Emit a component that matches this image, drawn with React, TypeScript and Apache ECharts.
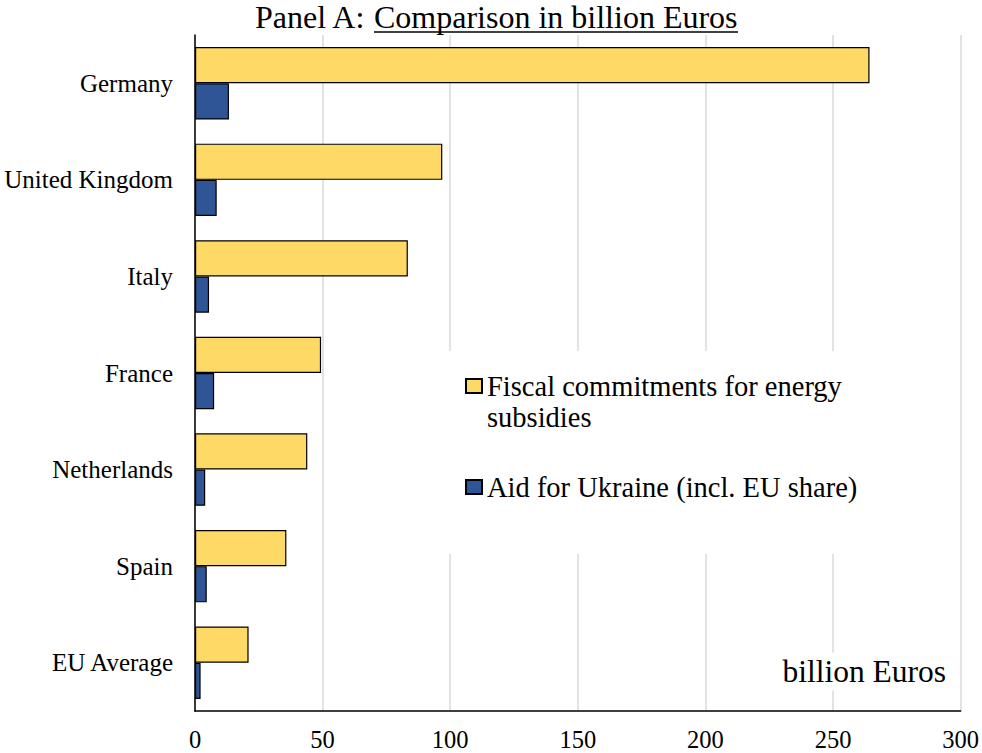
import React, { useEffect, useRef } from 'react';
import * as echarts from 'echarts';

const categories = ['Germany', 'United Kingdom', 'Italy', 'France', 'Netherlands', 'Spain', 'EU Average'];
const energySubsidies = [264.3, 96.9, 83.4, 49.4, 44.0, 35.8, 21.0];
const ukraineAid = [13.3, 8.5, 5.5, 7.5, 4.0, 4.6, 2.2];
const seriesNames = ['Fiscal commitments for energy subsidies', 'Aid for Ukraine (incl. EU share)'];
const legendLabels = ['\nFiscal commitments for energy\nsubsidies', 'Aid for Ukraine (incl. EU share)'];
const xMin = 0;
const xMax = 300;
const xInterval = 50;
const titlePrefix = 'Panel A: ';
const titleMain = 'Comparison in billion Euros';
const unitLabel = 'billion Euros';

const FONT = "'Liberation Serif', 'Times New Roman', serif";
const YELLOW = '#FFD966';
const BLUE = '#2F5597';

export default function App() {
  const ref = useRef<HTMLDivElement>(null);
  useEffect(() => {
    if (!ref.current) return;
    const chart = echarts.init(ref.current, undefined, { renderer: 'svg' });
    const legendText = { fontFamily: FONT, fontSize: 28.5, color: '#000', lineHeight: 31 };
    chart.setOption({
      animation: false,
      backgroundColor: '#fff',
      textStyle: { fontFamily: FONT },
      grid: { left: 195, top: 35, right: 19, bottom: 42, containLabel: false },
      xAxis: {
        type: 'value',
        min: xMin,
        max: xMax,
        interval: xInterval,
        axisLine: { show: true, lineStyle: { color: '#000', width: 1.5 } },
        axisTick: { show: false },
        axisLabel: { fontFamily: FONT, fontSize: 24.5, color: '#000', margin: 16 },
        splitLine: { show: true, lineStyle: { color: '#D9D9D9', width: 1.5 } },
      },
      yAxis: {
        type: 'category',
        data: categories,
        inverse: true,
        axisLine: { show: true, lineStyle: { color: '#000', width: 1.5 } },
        axisTick: { show: false },
        axisLabel: { fontFamily: FONT, fontSize: 25, color: '#000', margin: 22 },
        splitLine: { show: false },
      },
      legend: [
        {
          orient: 'vertical',
          left: 465,
          top: 339.5,
          padding: 0,
          itemWidth: 16,
          itemHeight: 14,
          icon: 'rect',
          selectedMode: false,
          data: [seriesNames[0]],
          formatter: () => legendLabels[0],
          textStyle: legendText,
        },
        {
          orient: 'vertical',
          left: 465,
          top: 471.6,
          padding: 0,
          itemWidth: 16,
          itemHeight: 14,
          icon: 'rect',
          selectedMode: false,
          data: [seriesNames[1]],
          formatter: () => legendLabels[1],
          textStyle: legendText,
        },
      ],
      graphic: [
        {
          type: 'rect',
          z: 1,
          shape: { x: 446, y: 351, width: 430, height: 203 },
          style: { fill: '#fff' },
          silent: true,
        },
        {
          type: 'text',
          z: 1,
          x: 950,
          y: 671.4,
          style: {
            text: unitLabel,
            fontFamily: FONT,
            fontSize: 31.5,
            fill: '#000',
            align: 'right',
            verticalAlign: 'middle',
            backgroundColor: '#fff',
            padding: [2, 4, 4, 8],
          },
        },
        {
          type: 'text',
          x: 255,
          y: 16.7,
          style: {
            text: titlePrefix,
            fontFamily: FONT,
            fontSize: 32,
            fill: '#000',
            align: 'left',
            verticalAlign: 'middle',
          },
        },
        {
          type: 'text',
          x: 374,
          y: 16.7,
          style: {
            text: titleMain,
            fontFamily: FONT,
            fontSize: 32,
            fill: '#000',
            align: 'left',
            verticalAlign: 'middle',
          },
        },
        {
          type: 'line',
          shape: { x1: 374, y1: 32, x2: 738, y2: 32 },
          style: { stroke: '#000', lineWidth: 1.6 },
        },
      ],
      series: [
        {
          name: seriesNames[0],
          type: 'bar',
          data: energySubsidies,
          barGap: '0%',
          barCategoryGap: '25%',
          itemStyle: { color: YELLOW, borderColor: '#000', borderWidth: 1.2 },
        },
        {
          name: seriesNames[1],
          type: 'bar',
          data: ukraineAid,
          barGap: '0%',
          barCategoryGap: '25%',
          itemStyle: { color: BLUE, borderColor: '#000', borderWidth: 1.2 },
        },
      ],
    });
    return () => chart.dispose();
  }, []);
  return <div ref={ref} style={{ position: 'absolute', left: 0, top: 0, width: 982, height: 753 }} />;
}
